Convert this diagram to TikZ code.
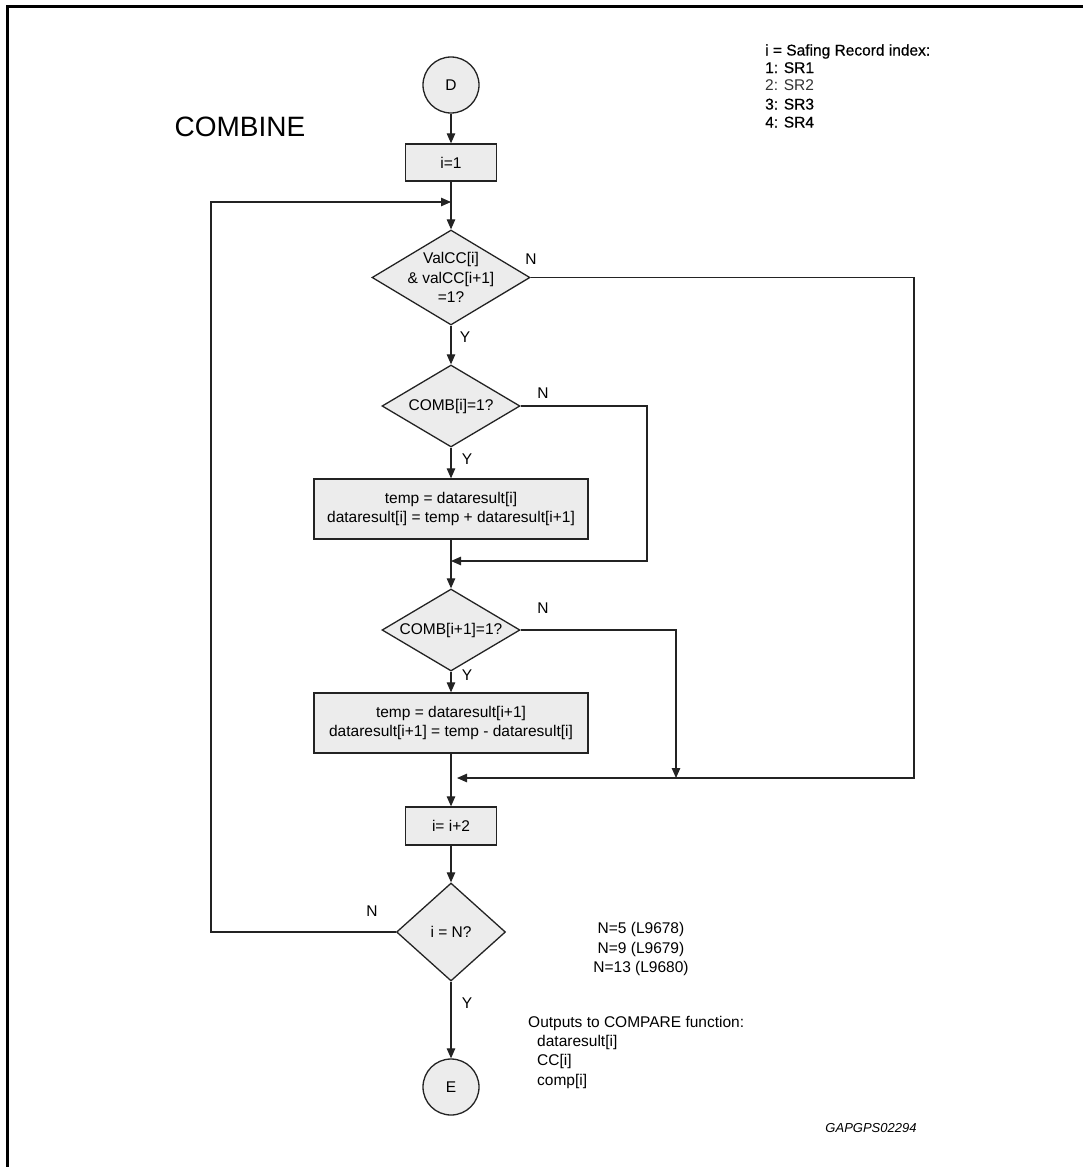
\documentclass[tikz,border=0pt]{standalone}
\usepackage{fontspec}
\setmainfont{Liberation Sans}
\newfontfamily\heavier[FakeBold=0.6]{Liberation Sans}
\usetikzlibrary{shapes.geometric,arrows.meta}
\definecolor{boxfill}{RGB}{236,236,236}
\definecolor{ln}{RGB}{35,35,35}
\begin{document}
\begin{tikzpicture}[x=1pt,y=-1pt,
  every node/.style={font=\fontsize{15.5}{19.5}\selectfont},
  circ/.style={circle,draw=ln,line width=1.3pt,fill=boxfill,minimum size=56pt,inner sep=0},
  proc/.style={rectangle,draw=ln,line width=1.3pt,fill=boxfill,inner sep=0,align=center},
  dec/.style={diamond,draw=ln,line width=1.3pt,fill=boxfill,inner sep=0},
  conn/.style={line width=1.1pt,draw=ln},
  arr/.style={conn,-{Triangle[length=10pt,width=8.5pt]}},
  lbl/.style={inner sep=0},
  side/.style={inner sep=0,anchor=base west},
  sidebf/.style={side,font=\fontsize{15.5}{19.5}\heavier},
]
\useasboundingbox (0,0) rectangle (1082,1167);
% frame
\draw[line width=3pt] (7,1175) -- (7,6) -- (1090,6);

% nodes
\node[circ] (D) at (451,85) {D};
\node[lbl] (combine) at (240,127) {\fontsize{28}{30}\selectfont COMBINE};
\node[proc, minimum width=91pt, minimum height=37pt] (i1) at (451,162.5) {i=1};
\coordinate (loop) at (451,202);
\node[dec, minimum width=158pt, minimum height=95pt] (d1) at (451,277.5) {};
\node[lbl, align=center] (d1t) at (d1) {ValCC[i]\\\& valCC[i+1]\\=1?};
\node[dec, minimum width=138pt, minimum height=82pt] (d2) at (451,406) {};
\node[lbl] (d2t) at (d2) {COMB[i]=1?};
\node[proc, minimum width=274pt, minimum height=60pt] (b2) at (451,509)
  {temp = dataresult[i]\\dataresult[i] = temp + dataresult[i+1]};
\coordinate (m1) at (451,561);
\node[dec, minimum width=138pt, minimum height=82pt] (d3) at (451,630) {};
\node[lbl] (d3t) at (d3) {COMB[i+1]=1?};
\node[proc, minimum width=274pt, minimum height=60pt] (b3) at (451,723)
  {temp = dataresult[i+1]\\dataresult[i+1] = temp - dataresult[i]};
\coordinate (m2) at (457,778);
\node[proc, minimum width=91pt, minimum height=38pt] (b4) at (451,826) {i= i+2};
\node[dec, minimum width=109pt, minimum height=98pt] (d4) at (451,932) {};
\node[lbl] (d4t) at (d4) {i = N?};
\node[circ] (E) at (451,1087) {E};

% helper coordinates
\coordinate (r1) at (914,778);
\coordinate (r2) at (647,561);
\coordinate (r3) at (676,778);
\coordinate (l4) at (211,202);

% connectors
\draw[arr] (D) -- (i1);
\draw[arr] (i1) -- (d1);
\draw[arr] (d1) -- (d2);
\draw[arr] (d2) -- (b2);
\draw[arr] (b2) -- (d3);
\draw[arr] (d3) -- (b3);
\draw[arr] (b3) -- (b4);
\draw[arr] (b4) -- (d4);
\draw[arr] (d4) -- (E);
\draw[arr] (d2.east) -| (r2) -- (m1);
\draw[arr] (d3.east) -| (r3);
\draw[arr] (d1.east) -| (r1) -- (m2);
\draw[arr] (d4.west) -| (l4) -- (loop);

% labels
\node[lbl] (n1) at (531,259) {N};
\node[lbl] (y1) at (465,337) {Y};
\node[lbl] (n2) at (543,393) {N};
\node[lbl] (y2) at (467,459) {Y};
\node[lbl] (n3) at (543,608) {N};
\node[lbl] (y3) at (467,675) {Y};
\node[lbl] (n4) at (372,911) {N};
\node[lbl] (y4) at (467,1003) {Y};

% side notes
\node[sidebf] (s0) at (765,55.5) {i = Safing Record index:};
\node[sidebf] (s1) at (765,73) {1: SR1};
\node[side, text=black!80] (s2) at (765,90.5) {2: SR2};
\node[sidebf] (s3) at (765,109.5) {3: SR3};
\node[sidebf] (s4) at (765,127.5) {4: SR4};

\node[lbl, anchor=base] (nn1) at (641,933.5) {N=5 (L9678)};
\node[lbl, anchor=base] (nn2) at (641,953) {N=9 (L9679)};
\node[lbl, anchor=base] (nn3) at (641,972.5) {N=13 (L9680)};

\node[side] (o0) at (528,1027.5) {Outputs to COMPARE function:};
\node[side] (o1) at (537,1046) {dataresult[i]};
\node[side] (o2) at (537,1065.5) {CC[i]};
\node[side] (o3) at (537,1085) {comp[i]};

\node[lbl] (code) at (871,1128) {\fontsize{13}{15}\selectfont\itshape GAPGPS02294};
\end{tikzpicture}
\end{document}
